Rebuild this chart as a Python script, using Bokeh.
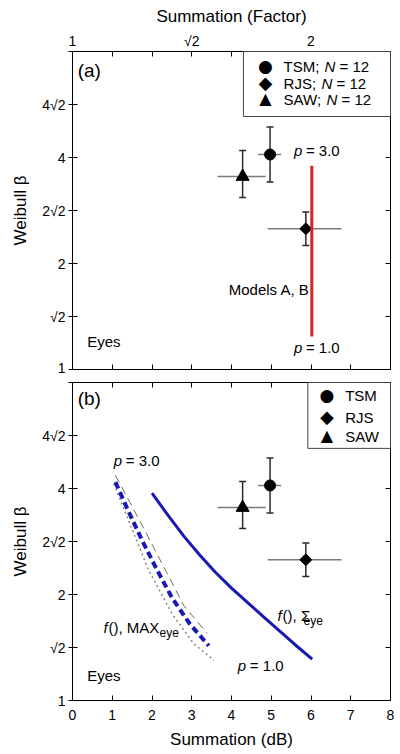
from bokeh.plotting import figure
from bokeh.models import (Range1d, FixedTicker, CustomJSTickFormatter, LinearAxis, LogAxis,
                          Whisker, TeeHead, ColumnDataSource, Label, BoxAnnotation)
from bokeh.layouts import column
from bokeh.embed import file_html
from bokeh.resources import INLINE

# ---------------- data ----------------
subjects = ["TSM", "RJS", "SAW"]
subject_markers = ["circle", "square", "triangle"]
subject_symbols = ["\u25cf", "\u25c6", "\u25b2"]
summation_db = [4.97, 5.87, 4.28]
summation_lo = [4.67, 4.91, 3.65]
summation_hi = [5.25, 6.77, 4.86]
beta = [4.08, 2.51, 3.53]
beta_lo = [3.41, 2.25, 3.08]
beta_hi = [4.88, 2.80, 4.19]
n_obs = [12, 12, 12]

# Models A, B (panel a): vertical line at a summation factor of 2
model_db = [6.02, 6.02]
model_beta = [1.24, 3.79]

# panel b model curves
sum_eye_db = [2.00, 2.40, 2.80, 3.20, 3.60, 4.00, 4.40, 4.80, 5.20, 5.60, 6.03]
sum_eye_beta = [3.88, 3.36, 2.93, 2.59, 2.31, 2.085, 1.90, 1.73, 1.58, 1.44, 1.31]
max_eye_db = [1.08, 1.40, 1.75, 2.10, 2.50, 2.95, 3.43]
max_eye_beta = [4.17, 3.46, 2.85, 2.38, 1.96, 1.65, 1.43]
max_eye_hi_db = [1.08, 1.33, 1.84, 2.30, 2.80, 3.39]
max_eye_hi_beta = [4.36, 3.86, 3.01, 2.39, 1.86, 1.55]
max_eye_lo_db = [1.04, 1.92, 2.51, 3.05, 3.56]
max_eye_lo_beta = [4.12, 2.34, 1.76, 1.45, 1.30]

# ticks
db_ticks = [0, 1, 2, 3, 4, 5, 6, 7, 8]
factor_tick_db = [0, 3, 6]
factor_tick_labels = ["1", "\u221a2", "2"]
beta_ticks = [1, 2 ** 0.5, 2, 2 * 2 ** 0.5, 4, 4 * 2 ** 0.5, 8]
beta_tick_labels = ["1", "\u221a2", "2", "2\u221a2", "4", "4\u221a2", ""]

FONT = "Liberation Sans"
BLUE = "#1818b4"
RED = "#d6222a"

LOOKUP = """
    for (let i = 0; i < tvals.length; i++) {
        if (Math.abs(tvals[i] - tick) < 1e-6) { return tlabels[i]; }
    }
    return '';
"""
beta_fmt = CustomJSTickFormatter(args=dict(tvals=beta_ticks, tlabels=beta_tick_labels), code=LOOKUP)
factor_fmt = CustomJSTickFormatter(args=dict(tvals=factor_tick_db, tlabels=factor_tick_labels), code=LOOKUP)


def style_axis(ax, labels=True, tick_out=0):
    ax.major_tick_in = 5
    ax.major_tick_out = tick_out
    ax.minor_tick_in = 0
    ax.minor_tick_out = 0
    ax.major_tick_line_color = "black"
    ax.major_tick_line_width = 1
    ax.axis_line_color = "black"
    ax.major_label_text_font = FONT
    ax.major_label_text_font_size = "14px"
    ax.major_label_text_color = "black"
    ax.axis_label_text_font = FONT
    ax.axis_label_text_font_size = "17px"
    ax.axis_label_text_font_style = "normal"
    ax.axis_label_text_color = "black"
    if not labels:
        ax.formatter = CustomJSTickFormatter(code="return '';")
        ax.major_label_text_font_size = "0px"
        ax.major_label_standoff = 0


def txt(p, x, y, text, size="15px", style="normal", x_offset=0, y_offset=0,
        font=FONT, align="left"):
    p.add_layout(Label(x=x, y=y, text=text, text_font=font, text_font_size=size,
                       text_font_style=style, text_color="black", text_baseline="middle",
                       text_align=align, x_offset=x_offset, y_offset=y_offset))


def make_panel(top):
    p = figure(frame_width=318, frame_height=318, output_backend="svg", toolbar_location=None,
               x_range=Range1d(0, 8), y_range=Range1d(1, 8), y_axis_type="log",
               x_axis_location="above" if top else "below",
               min_border_left=72, min_border_right=10,
               min_border_top=51 if top else 7, min_border_bottom=6 if top else 50)
    p.xgrid.visible = False
    p.ygrid.visible = False
    p.outline_line_color = "black"
    p.outline_line_width = 1
    p.background_fill_color = "white"

    xa = p.xaxis[0]
    xa.ticker = FixedTicker(ticks=db_ticks)
    style_axis(xa)
    if top:
        xa.formatter = factor_fmt
        xa.axis_label = "Summation (Factor)"
        xa.major_label_standoff = 3
        xa.axis_label_standoff = 4
    else:
        xa.axis_label = "Summation (dB)"
        xa.major_label_standoff = 9
        xa.axis_label_standoff = 7
    xb = LinearAxis(ticker=FixedTicker(ticks=db_ticks))
    style_axis(xb, labels=False)
    p.add_layout(xb, "below" if top else "above")

    ya = p.yaxis[0]
    ya.ticker = FixedTicker(ticks=beta_ticks)
    ya.formatter = beta_fmt
    ya.axis_label = "Weibull \u03b2"
    style_axis(ya, tick_out=4)
    ya.major_label_standoff = 3
    ya.axis_label_standoff = 9
    yb = LogAxis(ticker=FixedTicker(ticks=beta_ticks))
    style_axis(yb, labels=False)
    p.add_layout(yb, "right")

    # error bars
    src = ColumnDataSource(dict(x=summation_db, x_lo=summation_lo, x_hi=summation_hi,
                                b=beta, b_lo=beta_lo, b_hi=beta_hi))
    wh = Whisker(source=src, base="b", lower="x_lo", upper="x_hi", dimension="width",
                 line_color="#7a7a7a", line_width=1.5, upper_head=None, lower_head=None,
                 level="underlay")
    wv = Whisker(source=src, base="x", lower="b_lo", upper="b_hi", dimension="height",
                 line_color="#2a2a2a", line_width=1.5, level="underlay",
                 upper_head=TeeHead(size=7, line_color="#2a2a2a", line_width=1.5),
                 lower_head=TeeHead(size=7, line_color="#2a2a2a", line_width=1.5))
    p.add_layout(wh)
    p.add_layout(wv)

    for i, name in enumerate(subjects):
        mk = subject_markers[i]
        size = {"circle": 11, "square": 8.5, "triangle": 13}[mk]
        ang = 45 if mk == "square" else 0
        p.scatter(x=[summation_db[i]], y=[beta[i]], marker=mk, size=size,
                  angle=ang, angle_units="deg", fill_color="black", line_color="black")

    # legend (drawn as annotations so that N can be italic)
    if top:
        box_left, box_bottom = 4.30, 5.23
        rows = [7.24, 6.49, 5.86]
        sym_x, text_x = 4.855, 5.31
    else:
        box_left, box_bottom = 5.92, 5.20
        rows = [7.33, 6.35, 5.61]
        sym_x, text_x = 6.40, 6.86
    p.add_layout(BoxAnnotation(left=box_left, right=8, bottom=box_bottom, top=8,
                               fill_color="white", fill_alpha=1.0,
                               line_color="#444444", line_width=1, line_alpha=1.0))
    sym_sizes = ["17px", "18px", "16px"]
    n_offsets = [41, 38, 43]
    for i, name in enumerate(subjects):
        txt(p, sym_x, rows[i], subject_symbols[i], size=sym_sizes[i], font="DejaVu Sans",
            align="center", y_offset=1)
        if top:
            txt(p, text_x, rows[i], f"{name};")
            txt(p, text_x, rows[i], "N", style="italic", x_offset=n_offsets[i])
            txt(p, text_x, rows[i], f"= {n_obs[i]}", x_offset=n_offsets[i] + 15)
        else:
            txt(p, text_x, rows[i], name)
    return p


# ---------------- panel (a) ----------------
p1 = make_panel(True)
p1.line(model_db, model_beta, line_color=RED, line_width=3)
txt(p1, 0.13, 7.07, "(a)", size="19px")
txt(p1, 5.57, 4.19, "p", style="italic")
txt(p1, 5.57, 4.19, "= 3.0", x_offset=12)
txt(p1, 5.57, 1.157, "p", style="italic")
txt(p1, 5.57, 1.157, "= 1.0", x_offset=12)
txt(p1, 3.93, 1.687, "Models A, B")
txt(p1, 0.37, 1.20, "Eyes")

# ---------------- panel (b) ----------------
p2 = make_panel(False)
p2.line(max_eye_lo_db, max_eye_lo_beta, line_color="#8a8a8a", line_width=1.5, line_dash="2 3")
p2.line(max_eye_hi_db, max_eye_hi_beta, line_color="#6e6e5e", line_width=1, line_dash="8 5")
p2.line(max_eye_db, max_eye_beta, line_color=BLUE, line_width=4, line_dash="7 4")
p2.line(sum_eye_db, sum_eye_beta, line_color=BLUE, line_width=3)
txt(p2, 0.13, 7.2, "(b)", size="19px")
txt(p2, 1.04, 4.80, "p", style="italic")
txt(p2, 1.04, 4.80, "= 3.0", x_offset=12)
txt(p2, 4.16, 1.257, "p", style="italic")
txt(p2, 4.16, 1.257, "= 1.0", x_offset=12)
txt(p2, 0.78, 1.61, "f", style="italic")
txt(p2, 0.78, 1.61, "(), MAX", x_offset=5)
txt(p2, 0.78, 1.61, "eye", size="12px", x_offset=56, y_offset=-5)
txt(p2, 5.16, 1.74, "f", style="italic")
txt(p2, 5.16, 1.74, "(), \u03a3", x_offset=5)
txt(p2, 5.16, 1.74, "eye", size="12px", x_offset=26, y_offset=-5)
txt(p2, 0.37, 1.177, "Eyes")

layout = column(p1, p2)
open("out.html", "w").write(file_html(layout, INLINE))
